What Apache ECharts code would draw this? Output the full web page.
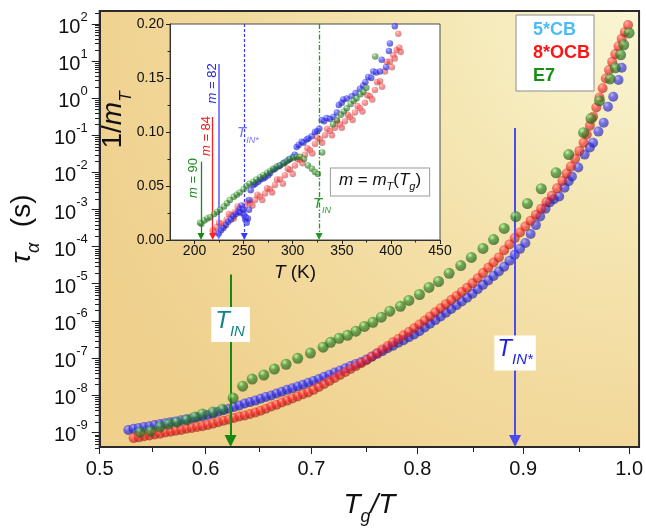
<!DOCTYPE html>
<html>
<head>
<meta charset="utf-8">
<script src="https://cdn.jsdelivr.net/npm/echarts@6/dist/echarts.min.js"></script>
<style>
  html, body { margin: 0; padding: 0; background: #ffffff; }
  #chart { width: 646px; height: 531px; }
</style>
</head>
<body>
<div id="chart"></div>
<script>
const FONT = '"Liberation Sans", Arial, Helvetica, sans-serif';

// ---- main panel: [Tg/T, log10(tau_alpha / s)] ----
const seriesNames = ['5*CB', '8*OCB', 'E7'];

const curve5CB = [
  [0.527,-8.94],[0.532,-8.91],[0.537,-8.89],[0.542,-8.86],[0.547,-8.84],[0.552,-8.81],[0.557,-8.78],[0.562,-8.76],
  [0.567,-8.73],[0.572,-8.71],[0.577,-8.68],[0.582,-8.65],[0.587,-8.63],[0.592,-8.60],[0.597,-8.58],[0.602,-8.54],
  [0.607,-8.50],[0.612,-8.45],[0.617,-8.41],[0.622,-8.37],[0.627,-8.32],[0.632,-8.28],[0.637,-8.23],[0.642,-8.19],
  [0.647,-8.15],[0.652,-8.10],[0.657,-8.05],[0.662,-8.01],[0.667,-7.96],[0.672,-7.91],[0.677,-7.86],[0.682,-7.82],
  [0.687,-7.77],[0.692,-7.72],[0.697,-7.67],[0.702,-7.62],[0.707,-7.57],[0.712,-7.51],[0.717,-7.45],[0.722,-7.39],
  [0.727,-7.34],[0.732,-7.28],[0.737,-7.22],[0.742,-7.16],[0.747,-7.11],[0.752,-7.04],[0.757,-6.97],[0.762,-6.89],
  [0.767,-6.82],[0.772,-6.74],[0.777,-6.67],[0.782,-6.59],[0.787,-6.52],[0.792,-6.44],[0.797,-6.37],[0.802,-6.28],
  [0.807,-6.18],[0.812,-6.08],[0.817,-5.98],[0.822,-5.88],[0.827,-5.78],[0.832,-5.68],[0.837,-5.58],[0.842,-5.48],
  [0.847,-5.38],[0.852,-5.27],[0.857,-5.15],[0.862,-5.03],[0.867,-4.91],[0.872,-4.79],[0.877,-4.67],[0.882,-4.54],
  [0.887,-4.38],[0.892,-4.22],[0.897,-4.06],[0.902,-3.90],[0.907,-3.66],[0.912,-3.42],[0.916,-3.19],[0.921,-2.98],
  [0.925,-2.81],[0.929,-2.72],[0.934,-2.65],[0.939,-2.41],[0.943,-2.24],[0.946,-2.11],[0.952,-1.87],[0.958,-1.52],
  [0.963,-1.33],[0.966,-1.20],[0.971,-0.90],[0.976,-0.66],[0.980,-0.23],[0.985,0.04],[0.990,0.49],[0.993,0.82]
];

const curve8OCB = [
  [0.532,-9.16],[0.537,-9.14],[0.542,-9.11],[0.547,-9.09],[0.552,-9.06],[0.557,-9.04],[0.562,-9.01],[0.567,-8.99],
  [0.572,-8.96],[0.577,-8.94],[0.582,-8.91],[0.587,-8.89],[0.592,-8.86],[0.597,-8.84],[0.602,-8.81],[0.607,-8.77],
  [0.612,-8.73],[0.617,-8.69],[0.622,-8.66],[0.627,-8.62],[0.632,-8.58],[0.637,-8.55],[0.642,-8.51],[0.647,-8.47],
  [0.652,-8.42],[0.657,-8.37],[0.662,-8.31],[0.667,-8.26],[0.672,-8.20],[0.677,-8.15],[0.682,-8.09],[0.687,-8.04],
  [0.692,-7.98],[0.697,-7.93],[0.702,-7.86],[0.707,-7.78],[0.712,-7.70],[0.717,-7.62],[0.722,-7.54],[0.727,-7.46],
  [0.732,-7.38],[0.737,-7.30],[0.742,-7.22],[0.747,-7.14],[0.752,-7.06],[0.757,-6.96],[0.762,-6.87],[0.767,-6.77],
  [0.772,-6.68],[0.777,-6.58],[0.782,-6.49],[0.787,-6.39],[0.792,-6.30],[0.797,-6.20],[0.802,-6.10],[0.807,-5.99],
  [0.812,-5.88],[0.817,-5.77],[0.822,-5.66],[0.827,-5.55],[0.832,-5.44],[0.837,-5.33],[0.842,-5.22],[0.847,-5.11],
  [0.852,-4.99],[0.857,-4.85],[0.862,-4.71],[0.867,-4.57],[0.872,-4.43],[0.877,-4.29],[0.882,-4.10],[0.887,-3.94],
  [0.892,-3.77],[0.897,-3.62],[0.902,-3.46],[0.907,-3.30],[0.912,-3.14],[0.917,-2.98],[0.922,-2.80],[0.927,-2.63],
  [0.932,-2.43],[0.937,-2.23],[0.941,-2.03],[0.945,-1.84],[0.949,-1.63],[0.953,-1.42],[0.957,-1.20],[0.960,-0.98],
  [0.963,-0.74],[0.966,-0.50],[0.969,-0.25],[0.972,0.02],[0.975,0.27],[0.978,0.53],[0.981,0.76],[0.984,0.98],
  [0.987,1.19],[0.990,1.40],[0.993,1.60],[0.996,1.78],[0.999,1.97]
];

const curveE7 = [
  [0.538,-9.00],[0.548,-8.97],[0.557,-8.86],[0.565,-8.78],[0.573,-8.73],[0.582,-8.67],[0.590,-8.59],[0.597,-8.51],
  [0.607,-8.46],[0.616,-8.38],[0.626,-8.08],[0.635,-7.76],[0.644,-7.57],[0.655,-7.46],[0.665,-7.30],[0.676,-7.17],
  [0.687,-7.01],[0.699,-6.87],[0.711,-6.71],[0.718,-6.58],[0.726,-6.47],[0.734,-6.39],[0.742,-6.28],[0.750,-6.15],
  [0.758,-6.04],[0.766,-5.90],[0.774,-5.74],[0.784,-5.61],[0.792,-5.45],[0.802,-5.29],[0.811,-5.10],[0.820,-4.94],
  [0.830,-4.72],[0.841,-4.51],[0.851,-4.29],[0.862,-4.05],[0.872,-3.81],[0.882,-3.51],[0.893,-3.19],[0.904,-2.84],
  [0.917,-2.44],[0.931,-2.01],[0.943,-1.52],[0.957,-0.93],[0.964,-0.55],[0.972,-0.07],[0.982,0.52],[0.987,0.82],
  [0.992,1.17],[0.995,1.44],[1.000,1.76]
];

// ---- inset: [T (K), 1/m_T] ----
const inset5CB = [
  [224.6,0.006],[227,0.009],[229.3,0.011],[232,0.014],[234.4,0.017],[237,0.019],[239.5,0.022],[242,0.024],
  [244.6,0.026],[246,0.029],[247,0.025],[248,0.032],[249.7,0.028],[250.7,0.023],[251.7,0.019],[252,0.021],
  [253.1,0.016],[254.4,0.020],[255.5,0.028],[255.8,0.037],[257.2,0.046],[259.9,0.051],[262,0.052],[264.9,0.054],
  [267,0.056],[270,0.057],[272,0.058],[275.1,0.060],[277,0.062],[280.2,0.065],[282,0.066],[285.3,0.068],
  [287,0.069],[290.4,0.071],[292,0.072],[295.5,0.074],[297,0.075],[300.6,0.077],[302,0.079],[304,0.086],
  [306,0.088],[309.1,0.091],[311,0.090],[314.2,0.093],[316,0.094],[319.3,0.096],[322.7,0.100],[325,0.101],
  [327.1,0.103],[329.5,0.111],[332,0.110],[334.6,0.113],[338,0.112],[341.4,0.114],[345,0.118],[347,0.125],
  [349.9,0.127],[351.6,0.130],[355,0.131],[360.1,0.133],[364,0.136],[368.5,0.140],[371.9,0.143],[374,0.146],
  [377,0.151],[380,0.150],[382.1,0.156],[385,0.155],[388.9,0.156],[390.6,0.167],[395,0.160],[398,0.175],
  [399,0.182],[404,0.198]
];

const inset8OCB = [
  [218.5,0.009],[221,0.007],[222.6,0.012],[225,0.016],[227.7,0.015],[230,0.013],[232.7,0.019],[235,0.024],
  [237.8,0.023],[240,0.020],[241.2,0.026],[244,0.031],[246.3,0.028],[249,0.026],[251.4,0.031],[254,0.036],
  [256.5,0.034],[259,0.032],[261.6,0.037],[264,0.042],[266.7,0.040],[269,0.037],[271.8,0.043],[274,0.048],
  [276.9,0.047],[279,0.044],[281.9,0.051],[284,0.056],[287,0.056],[290,0.052],[292.1,0.060],[295,0.066],
  [297.2,0.065],[300,0.061],[302.3,0.069],[305,0.075],[307.4,0.074],[310,0.071],[312.5,0.079],[315,0.085],
  [317.6,0.083],[320,0.080],[322.7,0.089],[325,0.095],[327.8,0.093],[330,0.090],[332.9,0.097],[335,0.103],
  [338,0.101],[340,0.097],[343,0.104],[345,0.110],[348.1,0.107],[350,0.104],[353.2,0.110],[356,0.116],
  [358.3,0.114],[361,0.111],[363.4,0.118],[366,0.124],[368.5,0.122],[371,0.119],[373.6,0.127],[376,0.134],
  [378.7,0.133],[381,0.130],[383.8,0.139],[386,0.146],[388.9,0.147],[391,0.142],[394,0.156],[396,0.165],
  [399,0.165],[401,0.160],[402.5,0.171],[404,0.168],[405.9,0.176],[407.5,0.191],[408.6,0.178],[410,0.174]
];

const insetE7 = [
  [205.6,0.016],[207,0.015],[210,0.018],[213,0.020],[216,0.021],[220,0.024],[223,0.026],[226,0.028],
  [230,0.031],[233,0.034],[236,0.037],[240,0.040],[243,0.042],[246,0.044],[250,0.047],[253,0.050],
  [256,0.052],[260,0.054],[263,0.056],[267,0.058],[270,0.060],[274,0.062],[277,0.064],[280,0.066],
  [284,0.068],[287,0.069],[291,0.071],[294,0.073],[297,0.075],[301,0.076],[304,0.077],[307.4,0.077],
  [311.5,0.075],[315.5,0.069],[319.6,0.066],[322.6,0.063],[325.7,0.061],[330,0.081],[341,0.107],[345,0.111],
  [349,0.116],[352,0.119],[355,0.122],[359,0.126],[362,0.129],[365,0.131],[369,0.135],[372,0.137],
  [375,0.141],[384,0.170]
];

// ---- tick values ----
const xMajor = [0.5, 0.6, 0.7, 0.8, 0.9, 1.0];
const xMinor = [0.55, 0.65, 0.75, 0.85, 0.95];
const yDecades = [-9, -8, -7, -6, -5, -4, -3, -2, -1, 0, 1, 2];
const insetXMajor = [200, 250, 300, 350, 400, 450];
const insetXMinor = [225, 275, 325, 375, 425];

// ---- characteristic temperatures ----
const tinE7 = 0.6236, tinE7Top = -4.75;      // T_IN of E7 (Tg/T)
const tin5CB = 0.8923, tin5CBTop = -0.80;    // T_IN* of 5*CB (Tg/T)
const tgE7 = 206.6, tgE7Top = 0.0725;        // m = 90
const tg8OCB = 218.5, tg8OCBTop = 0.114;     // m = 84
const tg5CB = 224.6, tg5CBTop = 0.163;       // m = 82
const tinStarK = 250.7;                      // T_IN* (K)
const tinK = 326.8;                          // T_IN (K)

// ---- axis ranges ----
const X_MIN = 0.5, X_MAX = 1.0094, Y_MIN = -9.4, Y_MAX = 2.35;
const IX_MIN = 175, IX_MAX = 450, IY_MIN = 0, IY_MAX = 0.2;

const yMinor = [];
for (let n = -10; n <= 2; n++) {
  for (let k = 2; k <= 9; k++) {
    const v = n + Math.log10(k);
    if (v > Y_MIN && v < Y_MAX) yMinor.push(v);
  }
}

const mainRect = { left: 99, top: 11, width: 544, height: 437 };
const insetRect = { left: 170, top: 24, width: 270, height: 216 };

// shaded sphere fill
function ball(r, g, b, a, liftBy) {
  const lift = c => Math.min(255, c + liftBy);
  const dim = c => Math.round(c * 0.6);
  return {
    type: 'radial', x: 0.36, y: 0.3, r: 0.72,
    colorStops: [
      { offset: 0, color: `rgba(${lift(r)},${lift(g)},${lift(b)},${a})` },
      { offset: 0.4, color: `rgba(${r},${g},${b},${a})` },
      { offset: 1, color: `rgba(${dim(r)},${dim(g)},${dim(b)},${a})` }
    ]
  };
}
const BLUE = [42, 42, 255], RED = [255, 34, 34], GREEN = [52, 140, 42];

// rich styles for italic symbols with subscripts; colorKey is 'color' for
// component labels and 'fill' for graphic text elements
function subRich(size, subSize, color, colorKey) {
  const key = colorKey || 'color';
  const c = { [key]: color };
  return {
    t: Object.assign({ fontSize: size, fontStyle: 'italic', lineHeight: size, verticalAlign: 'top', fontFamily: FONT }, c),
    r: Object.assign({ fontSize: size, lineHeight: size, verticalAlign: 'top', fontFamily: FONT }, c),
    s: Object.assign({ fontSize: subSize, fontStyle: 'italic', lineHeight: subSize, verticalAlign: 'bottom', fontFamily: FONT }, c),
    h: { fontSize: 1, lineHeight: Math.round(size * 1.25), fontFamily: FONT }
  };
}

const tickLine = { color: '#222', width: 1 };

const option = {
  animation: false,
  backgroundColor: '#ffffff',
  textStyle: { fontFamily: FONT },
  grid: [
    Object.assign({}, mainRect, {
      show: true, z: 0, borderColor: '#2a2a2a', borderWidth: 2,
      backgroundColor: {
        type: 'radial', x: 1, y: 0, r: 1.35,
        colorStops: [
          { offset: 0, color: '#faf6d4' },
          { offset: 0.35, color: '#f5e7b4' },
          { offset: 0.7, color: '#f2d99c' },
          { offset: 1, color: '#efd08d' }
        ]
      }
    }),
    Object.assign({}, insetRect, { show: true, z: 1, backgroundColor: '#ffffff', borderColor: '#4a4a4a', borderWidth: 1 }),
    Object.assign({}, mainRect, { show: false }),
    Object.assign({}, insetRect, { show: false })
  ],
  legend: {
    orient: 'vertical', left: 516, top: 15, z: 10,
    data: [
      { name: '5*CB', textStyle: { color: '#4dbcf4' } },
      { name: '8*OCB', textStyle: { color: '#ff1414' } },
      { name: 'E7', textStyle: { color: '#148f14' } }
    ],
    icon: 'rect', itemWidth: 0, itemHeight: 0, itemGap: 3,
    padding: [5, 4, 5, 12],
    backgroundColor: '#ffffff', borderColor: '#8c8c8c', borderWidth: 1,
    selectedMode: false,
    textStyle: { fontSize: 18, fontWeight: 'bold', lineHeight: 20, fontFamily: FONT }
  },
  xAxis: [
    {
      gridIndex: 0, type: 'value', min: X_MIN, max: X_MAX, z: 2,
      axisLine: { show: true, onZero: false, lineStyle: { color: '#2a2a2a', width: 2 } },
      axisTick: { show: true, customValues: xMajor, length: 7, lineStyle: tickLine },
      axisLabel: { customValues: xMajor, formatter: v => v.toFixed(1), fontSize: 20, color: '#111', margin: 12, fontFamily: FONT },
      splitLine: { show: false },
      name: '{t|T}{s|g}{t|/T}{h|\u200b}',
      nameLocation: 'middle', nameGap: 44,
      nameTextStyle: { rich: subRich(28, 18, '#111') }
    },
    {
      gridIndex: 1, type: 'value', min: IX_MIN, max: IX_MAX, z: 2,
      axisLine: { show: true, onZero: false, lineStyle: { color: '#333', width: 1 } },
      axisTick: { show: true, customValues: insetXMajor, length: 4, lineStyle: tickLine },
      axisLabel: { customValues: insetXMajor, fontSize: 14, color: '#111', margin: 4, fontFamily: FONT },
      splitLine: { show: false }
    },
    {
      gridIndex: 2, type: 'value', min: X_MIN, max: X_MAX, z: 2,
      axisLine: { show: false, onZero: false },
      axisTick: { show: true, customValues: xMinor, length: 4, lineStyle: tickLine },
      axisLabel: { show: false }, splitLine: { show: false }
    },
    {
      gridIndex: 3, type: 'value', min: IX_MIN, max: IX_MAX, z: 2,
      axisLine: { show: false, onZero: false },
      axisTick: { show: true, customValues: insetXMinor, length: 2.5, lineStyle: tickLine },
      axisLabel: { show: false }, splitLine: { show: false }
    }
  ],
  yAxis: [
    {
      gridIndex: 0, type: 'value', min: Y_MIN, max: Y_MAX, z: 2,
      axisLine: { show: true, onZero: false, lineStyle: { color: '#2a2a2a', width: 2 } },
      axisTick: { show: true, customValues: yDecades, length: 8, lineStyle: tickLine },
      axisLabel: {
        customValues: yDecades, margin: 12,
        formatter: v => '{b|10}{s|' + v + '}{h|\u200b}',
        rich: {
          b: { fontSize: 20, lineHeight: 20, verticalAlign: 'bottom', color: '#111', fontFamily: FONT },
          s: { fontSize: 13, lineHeight: 13, verticalAlign: 'top', color: '#111', fontFamily: FONT },
          h: { fontSize: 1, lineHeight: 27 }
        }
      },
      splitLine: { show: false },
      name: '{t|\u03c4}{s|\u03b1}{r|  (s)}{h|\u200b}',
      nameLocation: 'middle', nameGap: 52,
      nameTextStyle: { rich: subRich(28, 18, '#111') }
    },
    {
      gridIndex: 1, type: 'value', min: IY_MIN, max: IY_MAX, interval: 0.05, z: 2,
      axisLine: { show: true, onZero: false, lineStyle: { color: '#333', width: 1 } },
      axisTick: { show: true, length: 4, lineStyle: tickLine },
      minorTick: { show: true, splitNumber: 2, length: 2.5, lineStyle: tickLine },
      axisLabel: { formatter: v => v.toFixed(2), fontSize: 14, color: '#111', margin: 6, fontFamily: FONT },
      splitLine: { show: false }
    },
    {
      gridIndex: 2, type: 'value', min: Y_MIN, max: Y_MAX, z: 2,
      axisLine: { show: false, onZero: false },
      axisTick: { show: true, customValues: yMinor, length: 4, lineStyle: tickLine },
      axisLabel: { show: false }, splitLine: { show: false }
    },
    { gridIndex: 3, type: 'value', min: IY_MIN, max: IY_MAX, show: false }
  ],
  series: [
    {
      type: 'scatter', name: '5*CB', xAxisIndex: 0, yAxisIndex: 0, z: 3, silent: true,
      data: curve5CB, symbolSize: 10,
      itemStyle: { color: ball(...BLUE, 0.8, 110) }
    },
    {
      type: 'scatter', name: '8*OCB', xAxisIndex: 0, yAxisIndex: 0, z: 4, silent: true,
      data: curve8OCB, symbolSize: 10,
      itemStyle: { color: ball(...RED, 0.78, 110) }
    },
    {
      type: 'scatter', name: 'E7', xAxisIndex: 0, yAxisIndex: 0, z: 5, silent: true,
      data: curveE7, symbolSize: 11,
      itemStyle: { color: ball(...GREEN, 0.86, 120) },
      markLine: {
        silent: true, symbol: ['none', 'triangle'], symbolSize: 12,
        label: { show: false }, emphasis: { disabled: true },
        data: [
          [{ coord: [tinE7, tinE7Top], lineStyle: { color: '#148a14', width: 2, type: 'solid' } },
           { coord: [tinE7, Y_MIN + 0.16] }],
          [{ coord: [tin5CB, tin5CBTop], lineStyle: { color: '#4b4bf0', width: 2, type: 'solid' } },
           { coord: [tin5CB, Y_MIN + 0.16] }]
        ]
      }
    },
    {
      type: 'scatter', name: 'inset 5*CB', xAxisIndex: 1, yAxisIndex: 1, z: 4, silent: true,
      data: inset5CB, symbolSize: 6.5,
      itemStyle: { color: ball(...BLUE, 0.78, 110) },
      markLine: {
        silent: true, symbol: ['none', 'triangle'], symbolSize: 7,
        label: { show: false }, emphasis: { disabled: true },
        data: [
          [{ coord: [tg5CB, tg5CBTop], lineStyle: { color: 'rgba(90,90,255,0.75)', width: 2, type: 'solid' } },
           { coord: [tg5CB, 0.0032] }],
          [{ coord: [tinStarK, IY_MAX], lineStyle: { color: '#3a3aff', width: 1.2, type: [3, 2] } },
           { coord: [tinStarK, 0.0032] }]
        ]
      }
    },
    {
      type: 'scatter', name: 'inset 8*OCB', xAxisIndex: 1, yAxisIndex: 1, z: 3, silent: true,
      data: inset8OCB, symbolSize: 6.5,
      itemStyle: { color: ball(...RED, 0.6, 110) },
      markLine: {
        silent: true, symbol: ['none', 'triangle'], symbolSize: 7,
        label: { show: false }, emphasis: { disabled: true },
        data: [
          [{ coord: [tg8OCB, tg8OCBTop], lineStyle: { color: '#ff2020', width: 1.3, type: 'solid' } },
           { coord: [tg8OCB, 0.0032] }]
        ]
      }
    },
    {
      type: 'scatter', name: 'inset E7', xAxisIndex: 1, yAxisIndex: 1, z: 5, silent: true,
      data: insetE7, symbolSize: 6.5,
      itemStyle: { color: ball(...GREEN, 0.75, 120) },
      markLine: {
        silent: true, symbol: ['none', 'triangle'], symbolSize: 7,
        label: { show: false }, emphasis: { disabled: true },
        data: [
          [{ coord: [tgE7, tgE7Top], lineStyle: { color: '#1c861c', width: 1.3, type: 'solid' } },
           { coord: [tgE7, 0.0032] }],
          [{ coord: [tinK, IY_MAX], lineStyle: { color: '#1f9a1f', width: 1.3, type: [5, 2, 1.5, 2] } },
           { coord: [tinK, 0.0032] }]
        ]
      }
    }
  ]
};

const chart = echarts.init(document.getElementById('chart'), null, { renderer: 'canvas' });
chart.setOption(option);

// annotation texts, placed from data coordinates
const mainPx = p => chart.convertToPixel({ seriesIndex: 0 }, p);
const insetPx = p => chart.convertToPixel({ seriesIndex: 3 }, p);

function label(pos, text, rich, extra) {
  const el = {
    type: 'text', x: pos[0], y: pos[1], z: 20, silent: true,
    style: Object.assign({ text, rich, align: 'center', verticalAlign: 'middle' }, (extra && extra.style) || {})
  };
  if (extra && extra.rotation) el.rotation = extra.rotation;
  return el;
}

const tinMainPos = mainPx([tinE7, -6.1]);
const tinStarMainPos = mainPx([tin5CB, -6.87]);

chart.setOption({
  graphic: [
    label(tinMainPos, '{t|T}{s|IN}{h|\u200b}', subRich(24, 15, '#128585', 'fill'),
      { style: { backgroundColor: '#ffffff', padding: [2, 5, 3, 4] } }),
    label(tinStarMainPos, '{t|T}{s|IN*}{h|\u200b}', subRich(24, 15, '#1e1ee6', 'fill'),
      { style: { backgroundColor: '#ffffff', padding: [2, 3, 3, 3] } }),
    label([117, 120], '{r|1/}{t|m}{s|T}{h|\u200b}', subRich(28, 17, '#111', 'fill'), { rotation: Math.PI / 2 }),
    label([295, 273], '{t|T}{r| (K)}', subRich(19, 12, '#111', 'fill')),
    label(insetPx([198.4, 0.0574]), '{t|m}{r| = 90}', subRich(13, 9, '#1a8c1a', 'fill'), { rotation: Math.PI / 2 }),
    label(insetPx([212.4, 0.0963]), '{t|m}{r| = 84}', subRich(13, 9, '#f01414', 'fill'), { rotation: Math.PI / 2 }),
    label(insetPx([218.1, 0.145]), '{t|m}{r| = 82}', subRich(13, 9, '#2424e0', 'fill'), { rotation: Math.PI / 2 }),
    label(insetPx([254.4, 0.097]), '{t|T}{s|IN*}{h|\u200b}', subRich(15, 9, '#7676ff', 'fill')),
    label(insetPx([329.8, 0.0315]), '{t|T}{s|IN}{h|\u200b}', subRich(15, 9, '#2a9a2a', 'fill')),
    label(insetPx([388.9, 0.0537]), '{t|m}{r| = }{t|m}{s|T}{r|(}{t|T}{s|g}{r|)}{h|\u200b}', subRich(17, 11, '#111', 'fill'),
      { style: { backgroundColor: '#ffffff', borderColor: '#9a9a9a', borderWidth: 1, padding: [3, 8, 3, 8] } })
  ]
});
</script>
</body>
</html>
